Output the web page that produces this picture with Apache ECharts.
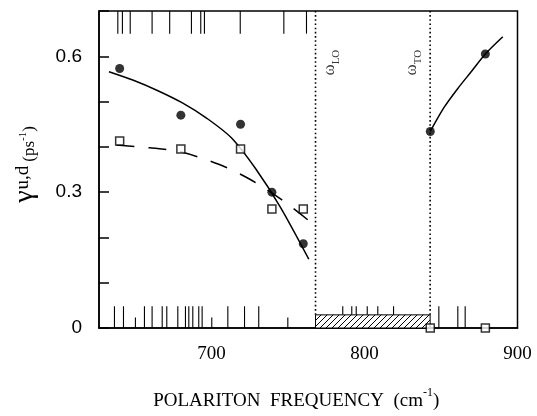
<!DOCTYPE html>
<html><head><meta charset="utf-8">
<script src="https://cdn.jsdelivr.net/npm/echarts@6/dist/echarts.min.js"></script>
<style>html,body{margin:0;padding:0;background:#fff}#c{width:537px;height:416px}</style>
</head><body><div id="c"></div>
<script>
// ---- data ----
const freqs  = [640, 680, 719, 739.5, 760, 843, 879];
const gammaU = [0.573, 0.470, 0.450, 0.300, 0.186, 0.434, 0.605];
const gammaD = [0.413, 0.395, 0.395, 0.263, 0.263, 0, 0];
const fitULowF  = [633, 649, 665, 681, 697, 713, 729, 745, 763.6];
const fitULowV  = [0.566, 0.547, 0.524, 0.497, 0.463, 0.420, 0.351, 0.267, 0.152];
const fitDLowF  = [637.9, 659.5, 679.7, 705.2, 724.8, 745.6, 762.9];
const fitDLowV  = [0.404, 0.398, 0.389, 0.361, 0.329, 0.284, 0.239];
const fitUHighF = [843, 852, 861, 870, 879, 890.4];
const fitUHighV = [0.434, 0.487, 0.529, 0.567, 0.605, 0.643];
const omegaF = [768, 842.9];
const omegaNames = ['LO', 'TO'];
const omegaLabelF = [778.2, 832];
const omegaLabelV = 0.586;
const gapHeight = 0.029;
const rugTop = [638.8, 641.8, 646.9, 661.2, 672.7, 686.9, 693.0, 695.4, 718.8, 747.3, 762.1];
const rugBottomLong = [636.6, 642.5, 656.2, 661.2, 667.8, 670.8, 678.0, 683.0, 685.2, 687.8, 691.7, 693.9, 710.7, 721.6, 730.9, 785.8, 791.7, 794.6, 801.8, 808.7, 819.0, 848.6, 861.0, 865.8];
const rugBottomShort = [650.3, 700.2, 749.9];
const yTickLabels = [0, 0.3, 0.6];
const xTickLabels = [700, 800, 900];
const xMin = 626.5, xMax = 900, yMin = 0, yMax = 0.7;

// ---- hatch pattern ----
const pc = document.createElement('canvas'); pc.width = 6; pc.height = 6;
const pg = pc.getContext('2d'); pg.fillStyle = '#fff'; pg.fillRect(0,0,6,6);
pg.strokeStyle = '#000'; pg.lineWidth = 1;
pg.beginPath(); pg.moveTo(0,6); pg.lineTo(6,0); pg.moveTo(-1,1); pg.lineTo(1,-1); pg.moveTo(5,7); pg.lineTo(7,5); pg.stroke();

const zip = (a, b) => a.map((v, i) => [v, b[i]]);
const serif = 'Liberation Serif, Times New Roman, serif';
const sans = 'Liberation Sans, Arial, sans-serif';

function rugSeries(freqList, y0, y1) {
  return {
    type: 'custom', silent: true, z: 3,
    data: freqList.map(f => [f, y0, y1]),
    renderItem: (params, api) => {
      const p0 = api.coord([api.value(0), api.value(1)]);
      const p1 = api.coord([api.value(0), api.value(2)]);
      return { type: 'line', shape: { x1: p0[0], y1: p0[1], x2: p1[0], y2: p1[1] },
        style: { stroke: '#000', lineWidth: 1.1 } };
    }
  };
}

const chart = echarts.init(document.getElementById('c'), null, { renderer: 'canvas' });
chart.setOption({
  backgroundColor: '#fff',
  animation: false,
  grid: { left: 99, right: 19.5, top: 11, bottom: 86.5, show: true, borderColor: '#000', borderWidth: 1.5, backgroundColor: 'transparent' },
  xAxis: {
    type: 'value', min: xMin, max: xMax,
    axisLine: { show: true, lineStyle: { color: '#000', width: 1.5 } },
    axisTick: { show: false },
    splitLine: { show: false },
    axisLabel: { customValues: xTickLabels, color: '#000', fontFamily: serif, fontSize: 19, margin: 17, showMaxLabel: true },
    name: '{t|POLARITON  FREQUENCY  (cm}{s|-1}{t|)}',
    nameLocation: 'middle', nameGap: 59,
    nameTextStyle: {
      padding: [0, 24, 0, 0],
      rich: {
        t: { fontFamily: serif, fontSize: 19, color: '#000', verticalAlign: 'bottom', lineHeight: 24 },
        s: { fontFamily: serif, fontSize: 12, color: '#000', verticalAlign: 'top', lineHeight: 24 }
      }
    }
  },
  yAxis: {
    type: 'value', min: yMin, max: yMax, interval: 0.1,
    axisLine: { show: true, lineStyle: { color: '#000', width: 1.5 } },
    axisTick: { show: true, inside: true, length: 10, lineStyle: { color: '#000', width: 1.5 } },
    splitLine: { show: false },
    axisLabel: {
      color: '#000', fontFamily: sans, fontSize: 19, margin: 17,
      formatter: v => {
        const hit = yTickLabels.find(t => Math.abs(t - v) < 1e-6);
        return hit === undefined ? '' : String(hit);
      }
    },
    name: '{g|γ}{u|u,d}{sp| }{p|(ps}{m|-1}{p|)}',
    nameLocation: 'middle', nameRotate: 90, nameGap: 60,
    nameTextStyle: {
      padding: [0, 0, 0, 10],
      rich: {
        g: { fontFamily: serif, fontSize: 28, color: '#000', verticalAlign: 'bottom', lineHeight: 30 },
        u: { fontFamily: serif, fontSize: 19, color: '#000', verticalAlign: 'bottom', lineHeight: 19, padding: [0, 0, 6, 1] },
        sp: { fontFamily: serif, fontSize: 16, lineHeight: 14, verticalAlign: 'bottom' },
        p: { fontFamily: serif, fontSize: 17, color: '#000', verticalAlign: 'bottom', lineHeight: 18, padding: [0, 0, 1, 0] },
        m: { fontFamily: serif, fontSize: 11, color: '#000', verticalAlign: 'bottom', lineHeight: 11, padding: [0, 0, 10, 0] }
      }
    }
  },
  series: [
    rugSeries(rugTop, yMax, yMax - 0.05),
    rugSeries(rugBottomLong, 0, 0.048),
    rugSeries(rugBottomShort, 0, 0.023),
    { // hatched gap
      type: 'custom', silent: true, z: 4,
      data: [[omegaF[0], omegaF[1], gapHeight]],
      renderItem: (params, api) => {
        const p0 = api.coord([api.value(0), api.value(2)]);
        const p1 = api.coord([api.value(1), 0]);
        return { type: 'rect', shape: { x: p0[0], y: p0[1], width: p1[0] - p0[0], height: p1[1] - p0[1] },
          style: { fill: { image: pc, repeat: 'repeat' }, stroke: '#000', lineWidth: 1 } };
      }
    },
    { // dotted omega lines
      type: 'custom', silent: true, z: 4,
      data: omegaF.map(f => [f, gapHeight, yMax]),
      renderItem: (params, api) => {
        const p0 = api.coord([api.value(0), api.value(1)]);
        const p1 = api.coord([api.value(0), api.value(2)]);
        return { type: 'line', shape: { x1: p0[0], y1: p0[1], x2: p1[0], y2: p1[1] },
          style: { stroke: '#000', lineWidth: 1.6, lineDash: [1.6, 2.6] } };
      }
    },
    { // omega labels
      type: 'scatter', symbolSize: 0, silent: true, z: 5,
      data: omegaLabelF.map(f => [f, omegaLabelV]),
      label: {
        show: true, position: 'inside', rotate: 90,
        formatter: p => '{w|ω}{s|' + omegaNames[p.dataIndex] + '}',
        rich: {
          w: { fontFamily: serif, fontSize: 17, color: '#000', verticalAlign: 'top', lineHeight: 20 },
          s: { fontFamily: serif, fontSize: 11, color: '#000', verticalAlign: 'bottom', lineHeight: 20 }
        }
      }
    },
    { type: 'line', data: zip(fitULowF, fitULowV), smooth: 0.3, showSymbol: false, z: 6,
      lineStyle: { color: '#000', width: 1.5 } },
    { type: 'line', data: zip(fitDLowF, fitDLowV), smooth: 0.3, showSymbol: false, z: 6,
      lineStyle: { color: '#000', width: 1.5, type: [18, 14] } },
    { type: 'line', data: zip(fitUHighF, fitUHighV), smooth: 0.3, showSymbol: false, z: 6,
      lineStyle: { color: '#000', width: 1.5 } },
    { type: 'scatter', data: zip(freqs, gammaD), symbol: 'rect', symbolSize: 8, clip: false, z: 7,
      itemStyle: { color: '#fff', borderColor: '#000', borderWidth: 1.5 } },
    { type: 'scatter', data: zip(freqs, gammaU), symbol: 'circle', symbolSize: 9, clip: false, z: 8,
      itemStyle: { color: '#000' } }
  ]
});
</script>
</body></html>
